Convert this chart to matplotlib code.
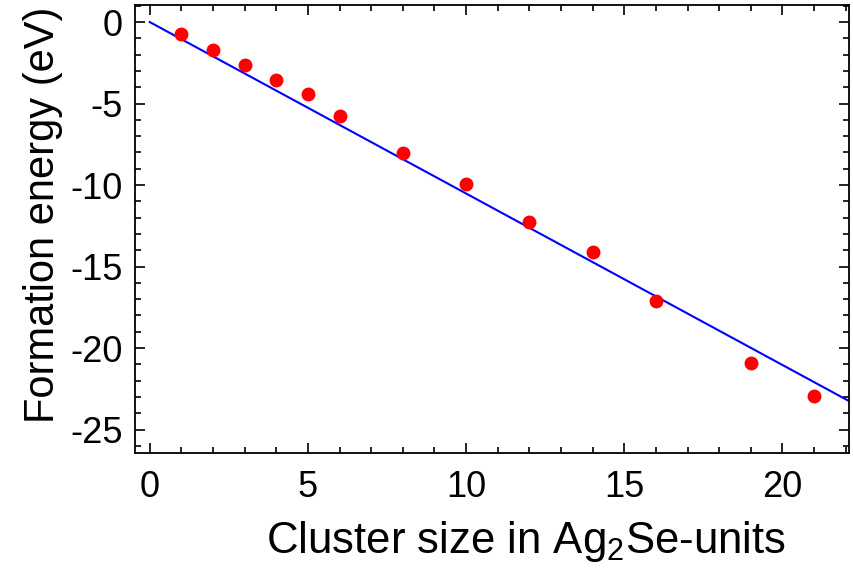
import numpy as np
import matplotlib.pyplot as plt
from matplotlib.ticker import MultipleLocator

plt.rcParams["font.family"] = ["Liberation Sans", "DejaVu Sans"]
plt.rcParams["axes.unicode_minus"] = False
plt.rcParams["mathtext.fontset"] = "custom"
plt.rcParams["mathtext.rm"] = "Liberation Sans"
plt.rcParams["mathtext.it"] = "Liberation Sans:italic"

# cluster size (Ag2Se units) and formation energy (eV)
size = [1, 2, 3, 4, 5, 6, 8, 10, 12, 14, 16, 19, 21]
energy = [-0.74, -1.70, -2.64, -3.56, -4.42, -5.77, -8.04, -9.94, -12.27, -14.11, -17.10, -20.90, -22.95]

# linear fit through the origin
slope = -1.052
fit_x = np.array([0, 22.2])

fig = plt.figure(figsize=(8.54, 5.7), dpi=100)
ax = fig.add_axes([0.158, 0.205, 0.836, 0.786])

ax.plot(fit_x, slope * fit_x, color="blue", linewidth=1.5)
ax.plot(size, energy, "o", color="red", markersize=10, markeredgewidth=0)

ax.set_xlim(-0.47, 22.1)
ax.set_ylim(-26.45, 1.04)
ax.xaxis.set_major_locator(MultipleLocator(5))
ax.xaxis.set_minor_locator(MultipleLocator(1))
ax.yaxis.set_major_locator(MultipleLocator(5))
ax.yaxis.set_minor_locator(MultipleLocator(1))
ax.tick_params(which="both", direction="in", top=True, right=True, width=1.2, labelsize=26)
ax.tick_params(axis="x", pad=12)
ax.tick_params(axis="y", pad=9)
ax.tick_params(which="major", length=7)
ax.tick_params(which="minor", length=4)
ax.tick_params(top=True, right=True, labeltop=False, labelright=False)
for s in ax.spines.values():
    s.set_linewidth(1.3)

ax.set_xlabel("Cluster size in Ag$\\mathrm{_2}$Se-units", fontsize=31.5, labelpad=10)
ax.set_ylabel("Formation energy (eV)", fontsize=30, labelpad=5)
ax.xaxis.label.set_x(0.548)
ax.yaxis.label.set_y(0.531)

fig.savefig("out.png", dpi=100)
